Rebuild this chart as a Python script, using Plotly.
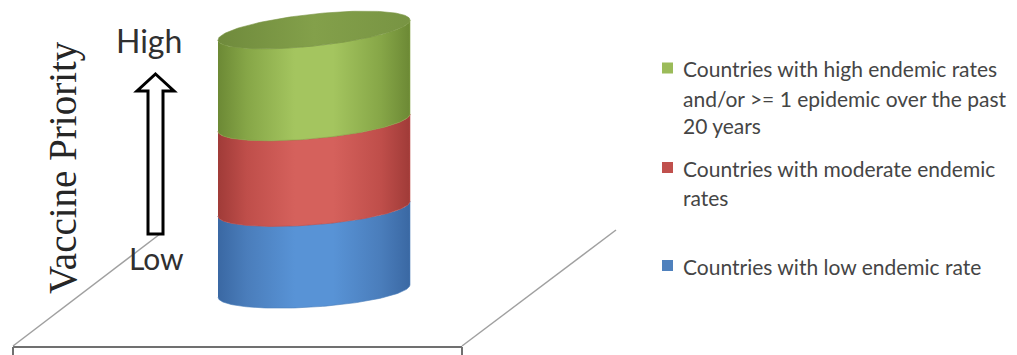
import numpy as np
import plotly.graph_objects as go

W, H = 1017, 355

# ---------------- data ----------------
categories = [
    "Countries with low endemic rate",
    "Countries with moderate endemic rates",
    "Countries with high endemic rates and/or >= 1 epidemic over the past 20 years",
]
values = [31.5, 33.0, 35.5]          # share of the stacked cylinder (low, moderate, high)
legend_lines = [
    ["Countries with low endemic rate"],
    ["Countries with moderate endemic", "rates"],
    ["Countries with high endemic rates", "and/or >= 1 epidemic over the past", "20 years"],
]
axis_title = "Vaccine Priority"
axis_high = "High"
axis_low = "Low"

# ---------------- styles ----------------
dark = ["#3a68a3", "#a03b38", "#6c8935"]
mid = ["#4a7dbb", "#bf4e4a", "#86a647"]
light = ["#5893d6", "#d5615c", "#a4c55f"]
legend_color = ["#4f81bd", "#c0504d", "#9bbb59"]
top_face = [[0, "#6f8a3c"], [0.5, "#83a04a"], [1, "#789443"]]

PX = 2.61            # pixels per value unit
BASE_PY = 291        # pixel row of the cylinder base centre
CX, A, B = 314, 96, 16


def P(px, py):
    return px / W, 1 - py / H


def shear(z):
    return 0.065 + (0.104 - 0.065) * z / 100.0


def ring(z, t):
    x = CX + A * np.cos(t)
    y = z + (B * np.sin(t) + shear(z) * (x - CX)) / PX
    return x, y


fig = go.Figure()
levels = np.concatenate([[0], np.cumsum(values)])
tf = np.linspace(np.pi, 2 * np.pi, 120)
for i, name in enumerate(categories):
    x0, y0 = ring(levels[i], tf)
    x1, y1 = ring(levels[i + 1], tf)
    fig.add_trace(go.Scatter(
        x=np.concatenate([x0, x1[::-1]]),
        y=np.concatenate([y0, y1[::-1]]),
        mode="lines", fill="toself", name=name,
        line=dict(width=0.6, color=mid[i]),
        fillgradient=dict(type="horizontal", colorscale=[
            [0, dark[i]], [0.15, mid[i]], [0.4, light[i]], [0.6, light[i]],
            [0.85, mid[i]], [1, dark[i]]]),
        showlegend=False, hoverinfo="name",
    ))
ta = np.linspace(0, 2 * np.pi, 200)
xt, yt = ring(levels[-1], ta)
fig.add_trace(go.Scatter(
    x=xt, y=yt, mode="lines", fill="toself", name=categories[-1],
    line=dict(width=0.6, color="#789443"),
    fillgradient=dict(type="horizontal", colorscale=top_face),
    showlegend=False, hoverinfo="skip",
))

shapes = []
floor_dark = "#707070"
floor_light = "#a0a0a0"
for (a, b, c, d, col, w) in [
    (13, 347, 462, 347, floor_dark, 2),
    (13, 347, 13, 358, floor_dark, 2),
    (462, 347, 462, 358, floor_dark, 2),
    (13, 346, 160, 234, floor_light, 1.5),
    (462, 346, 616, 230, floor_light, 1.5),
]:
    x0p, y0p = P(a, b)
    x1p, y1p = P(c, d)
    shapes.append(dict(type="line", xref="paper", yref="paper", x0=x0p, y0=y0p,
                       x1=x1p, y1=y1p, line=dict(color=col, width=w)))

arrow_pts = [(155.5, 74), (174, 91), (163, 91), (163, 234), (148, 234), (148, 91), (137, 91)]
path = "M " + " L ".join("%.5f,%.5f" % P(px, py) for px, py in arrow_pts) + " Z"
shapes.append(dict(type="path", xref="paper", yref="paper", path=path,
                   fillcolor="white", line=dict(color="black", width=3)))

# legend squares
sq_rows = [265.5, 167.5, 68]
for i in range(3):
    x0p, y0p = P(662, sq_rows[i] - 5.5)
    x1p, y1p = P(673, sq_rows[i] + 5.5)
    shapes.append(dict(type="rect", xref="paper", yref="paper", x0=x0p, y0=y1p,
                       x1=x1p, y1=y0p, fillcolor=legend_color[i], line=dict(width=0)))

annotations = []
line_rows = [[266], [168, 197], [69, 98, 126]]
for i in range(3):
    for txt, py in zip(legend_lines[i], line_rows[i]):
        xp, yp = P(681, py)
        annotations.append(dict(text=txt, x=xp, y=yp, xref="paper", yref="paper",
                                xanchor="left", yanchor="middle", showarrow=False,
                                font=dict(family="Lato", size=21, color="#454545")))

xp, yp = P(63, 168)
annotations.append(dict(text=axis_title, x=xp, y=yp, xref="paper", yref="paper",
                        textangle=-90, showarrow=False, xanchor="center", yanchor="middle",
                        font=dict(family="Liberation Serif", size=39, color="#262626")))
xp, yp = P(148.5, 41)
annotations.append(dict(text=axis_high, x=xp, y=yp, xref="paper", yref="paper",
                        showarrow=False, xanchor="center", yanchor="middle",
                        font=dict(family="Lato", size=32, color="#303030")))
xp, yp = P(156.5, 258)
annotations.append(dict(text=axis_low, x=xp, y=yp, xref="paper", yref="paper",
                        showarrow=False, xanchor="center", yanchor="middle",
                        font=dict(family="Lato", size=30, color="#303030")))

fig.update_layout(
    width=W, height=H, margin=dict(l=0, r=0, t=0, b=0),
    paper_bgcolor="white", plot_bgcolor="white",
    xaxis=dict(range=[0, W], visible=False, fixedrange=True),
    yaxis=dict(range=[-(H - BASE_PY) / PX, BASE_PY / PX], visible=False, fixedrange=True),
    shapes=shapes, annotations=annotations, showlegend=False,
)
fig.write_html("out.html")
